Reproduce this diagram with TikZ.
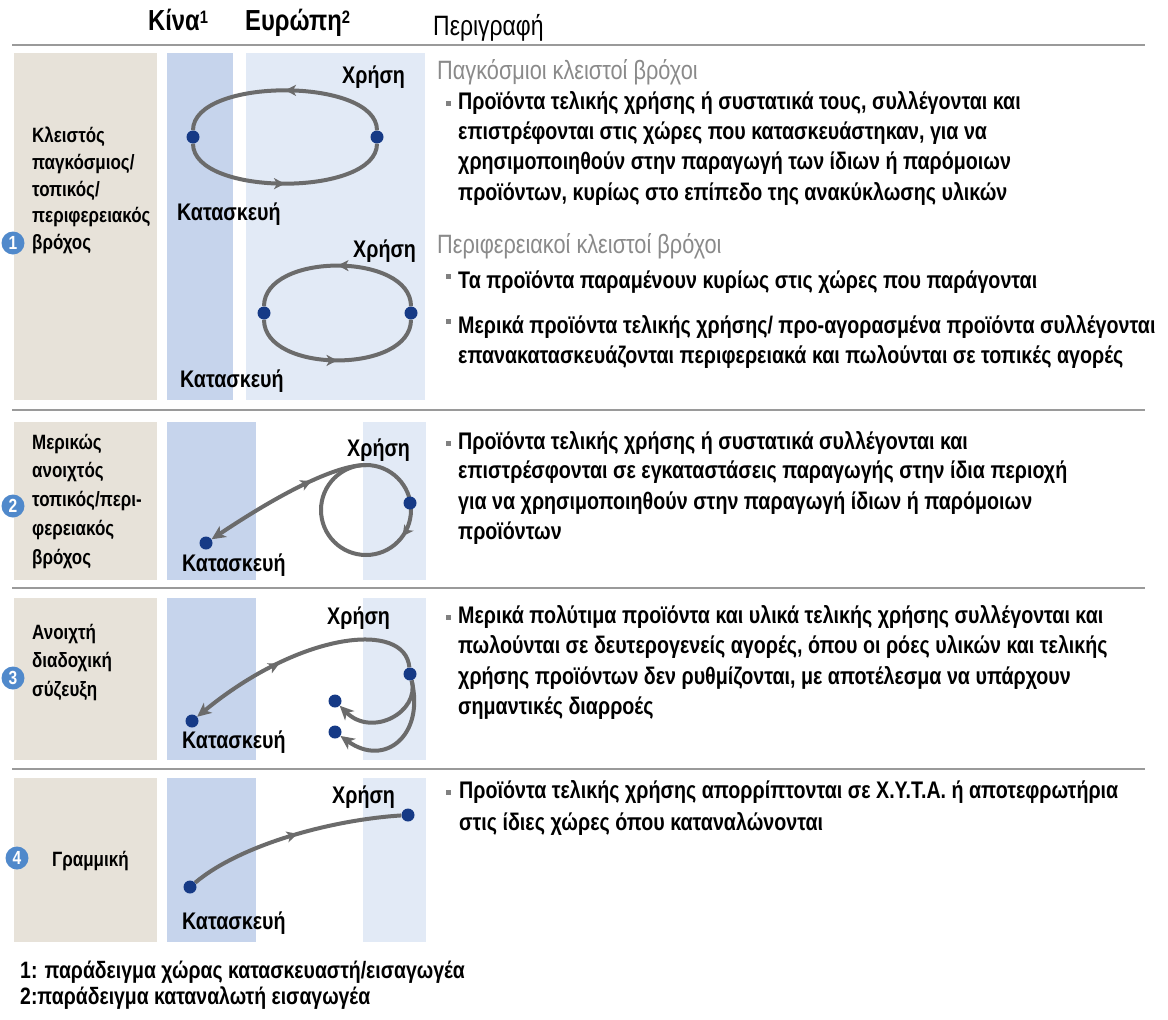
\documentclass[tikz,border=0pt]{standalone}
\usepackage{fontspec}
\setmainfont{Liberation Sans}[FakeStretch=0.82]
\usetikzlibrary{arrows.meta,decorations.markings}

\definecolor{panelbeige}{HTML}{E7E2D9}
\definecolor{chinablue}{HTML}{C6D4EC}
\definecolor{europeblue}{HTML}{E2EAF6}
\definecolor{rulegray}{HTML}{9A9A9A}
\definecolor{flowgray}{HTML}{6B6B6B}
\definecolor{dotblue}{HTML}{163A86}
\definecolor{badgeblue}{HTML}{5089CB}
\definecolor{subgray}{HTML}{8A8A8A}
\definecolor{bulletgray}{HTML}{808080}

\begin{document}
\begin{tikzpicture}[x=1pt,y=-1pt,
  basetxt/.style={anchor=mid west,inner sep=0pt,yshift=-4pt},
  headtxt/.style={basetxt,font=\fontsize{29}{30}\selectfont\bfseries},
  descheadtxt/.style={basetxt,font=\fontsize{28}{30}\selectfont},
  labeltxt/.style={basetxt,font=\fontsize{20.7}{24}\selectfont\bfseries},
  bodytxt/.style={basetxt,font=\fontsize{24}{28}\selectfont\bfseries},
  subtxt/.style={basetxt,text=subgray,font=\fontsize{26.5}{28}\selectfont},
  placetxt/.style={basetxt,font=\fontsize{24}{28}\selectfont\bfseries},
  notetxt/.style={basetxt,font=\fontsize{23.7}{28}\selectfont\bfseries},
  bulletbox/.style={fill=bulletgray,inner sep=0pt,minimum size=5pt,rectangle},
  badge/.style={circle,fill=badgeblue,text=white,inner sep=0pt,minimum size=23pt,
    font=\fontsize{19}{19}\selectfont\bfseries},
  flowdot/.style={circle,fill=dotblue,inner sep=0pt,minimum size=13pt},
  flow/.style={draw=flowgray,line width=4pt},
  endarrow/.style={-{Stealth[length=14pt,width=13pt,inset=4pt]}},
  midarrow/.style={postaction={decorate},decoration={markings,
    mark=at position #1 with {\arrow{Stealth[length=11pt,width=11pt,inset=3pt]}}}},
  midrevarrow/.style={postaction={decorate},decoration={markings,
    mark=at position #1 with {\arrowreversed{Stealth[length=11pt,width=11pt,inset=3pt]}}}},
  rule/.style={draw=rulegray,line width=2.6pt}
]
\useasboundingbox (0,0) rectangle (1168,1020);
\fill[white] (0,0) rectangle (1168,1020);

% ---------- header ----------
\node[headtxt] (hchina) at (148,24) {Κίνα\raisebox{7pt}{\fontsize{18}{18}\selectfont 1}};
\node[headtxt] (heurope) at (245,24) {Ευρώπη\raisebox{7pt}{\fontsize{18}{18}\selectfont 2}};
\node[descheadtxt] (hdesc) at (433,29) {Περιγραφή};

% ---------- horizontal rules ----------
\draw[rule] (12,45) -- (1145,45);
\draw[rule] (12,410) -- (1145,410);
\draw[rule] (12,588) -- (1145,588);
\draw[rule] (12,769) -- (1145,769);

% ---------- panels ----------
\fill[panelbeige] (14,53) rectangle (157,400);
\fill[chinablue] (167,53) rectangle (233,400);
\fill[europeblue] (246,53) rectangle (425,400);

\fill[panelbeige] (14,422) rectangle (157,580);
\fill[chinablue] (167,422) rectangle (256,580);
\fill[europeblue] (363,422) rectangle (426,580);

\fill[panelbeige] (14,598) rectangle (157,760);
\fill[chinablue] (167,598) rectangle (256,760);
\fill[europeblue] (363,598) rectangle (426,760);

\fill[panelbeige] (14,778) rectangle (157,942);
\fill[chinablue] (167,778) rectangle (256,942);
\fill[europeblue] (363,778) rectangle (426,942);

% ---------- row labels ----------
\node[labeltxt] (l1a) at (32,136) {Κλειστός};
\node[labeltxt] (l1b) at (32,163) {παγκόσμιος/};
\node[labeltxt] (l1c) at (32,190) {τοπικός/};
\node[labeltxt] (l1d) at (32,216) {περιφερειακός};
\node[labeltxt] (l1e) at (32,243) {βρόχος};
\node[badge] (b1) at (13,243) {1};

\node[labeltxt] (l2a) at (32,443) {Μερικώς};
\node[labeltxt] (l2b) at (32,471) {ανοιχτός};
\node[labeltxt] (l2c) at (32,500) {τοπικός/περι-};
\node[labeltxt] (l2d) at (32,529) {φερειακός};
\node[labeltxt] (l2e) at (32,558) {βρόχος};
\node[badge] (b2) at (13,506) {2};

\node[labeltxt] (l3a) at (32,633) {Ανοιχτή};
\node[labeltxt] (l3b) at (32,661) {διαδοχική};
\node[labeltxt] (l3c) at (32,690) {σύζευξη};
\node[badge] (b3) at (13,678) {3};

\node[labeltxt] (l4a) at (52,860) {Γραμμική};
\node[badge] (b4) at (17,858) {4};

% ---------- row 1: global and regional closed loops ----------
\node[flowdot] (k1a) at (193,137) {};
\node[flowdot] (u1a) at (377,137) {};
\draw[flow,midarrow=0.5] (k1a) .. controls +(0,60) and +(0,60) .. (u1a);
\draw[flow,midarrow=0.5] (u1a) .. controls +(0,-60) and +(0,-60) .. (k1a);
\node[placetxt] (tu1a) at (342,77) {Χρήση};
\node[placetxt] (tk1a) at (177,214) {Κατασκευή};

\node[flowdot] (k1b) at (264,313) {};
\node[flowdot] (u1b) at (411,313) {};
\draw[flow,midarrow=0.5] (k1b) .. controls +(0,61) and +(0,61) .. (u1b);
\draw[flow,midarrow=0.5] (u1b) .. controls +(0,-61) and +(0,-61) .. (k1b);
\node[placetxt] (tu1b) at (353,251) {Χρήση};
\node[placetxt] (tk1b) at (180,381) {Κατασκευή};

% ---------- row 2: partially open loop ----------
\coordinate (c2) at (366,510);
\coordinate (top2) at (366,465);
\node[flowdot] (k2) at (206,543) {};
\draw[flow,midarrow=0.1] (c2) circle[radius=45];
\node[flowdot] (u2) at (410,503) {};
\draw[flow,endarrow,midrevarrow=0.33] (top2) .. controls +(-40,0) and +(45,-30) .. (k2);
\node[placetxt] (tu2) at (347,450) {Χρήση};
\node[placetxt] (tk2) at (182,565) {Κατασκευή};

% ---------- row 3: open cascading coupling ----------
\node[flowdot] (k3) at (192,721) {};
\node[flowdot] (u3) at (410,674) {};
\node[flowdot] (s3a) at (335,701) {};
\node[flowdot] (s3b) at (335,732) {};
\draw[flow,endarrow,midrevarrow=0.6] (u3) .. controls (405,620) and (300,632) .. (k3);
\draw[flow,endarrow] (u3) .. controls (420,712) and (372,738) .. (s3a);
\draw[flow,endarrow] (u3) .. controls (425,735) and (385,768) .. (s3b);
\node[placetxt] (tu3) at (327,618) {Χρήση};
\node[placetxt] (tk3) at (182,742) {Κατασκευή};

% ---------- row 4: linear ----------
\node[flowdot] (k4) at (190,887) {};
\node[flowdot] (u4) at (408,815) {};
\draw[flow,midarrow=0.52] (k4) .. controls (240,845) and (330,820) .. (u4);
\node[placetxt] (tu4) at (332,797) {Χρήση};
\node[placetxt] (tk4) at (182,923) {Κατασκευή};

% ---------- descriptions ----------
\node[subtxt] (s1) at (437,73) {Παγκόσμιοι κλειστοί βρόχοι};
\node[bulletbox] (p1) at (448,103) {};
\node[bodytxt] (d1a) at (458,103) {Προϊόντα τελικής χρήσης ή συστατικά τους, συλλέγονται και};
\node[bodytxt] (d1b) at (458,133) {επιστρέφονται στις χώρες που κατασκευάστηκαν, για να};
\node[bodytxt] (d1c) at (458,163) {χρησιμοποιηθούν στην παραγωγή των ίδιων ή παρόμοιων};
\node[bodytxt] (d1d) at (458,194) {προϊόντων, κυρίως στο επίπεδο της ανακύκλωσης υλικών};

\node[subtxt] (s2) at (437,247) {Περιφερειακοί κλειστοί βρόχοι};
\node[bulletbox] (p2) at (448,276) {};
\node[bodytxt] (d2a) at (458,282) {Τα προϊόντα παραμένουν κυρίως στις χώρες που παράγονται};
\node[bulletbox] (p3) at (448,321) {};
\node[bodytxt] (d3a) at (458,327) {Μερικά προϊόντα τελικής χρήσης/ προ-αγορασμένα προϊόντα συλλέγονται};
\node[bodytxt] (d3b) at (458,357) {επανακατασκευάζονται περιφερειακά και πωλούνται σε τοπικές αγορές};

\node[bulletbox] (p4) at (448,443) {};
\node[bodytxt] (d4a) at (458,443) {Προϊόντα τελικής χρήσης ή συστατικά συλλέγονται και};
\node[bodytxt] (d4b) at (458,472) {επιστρέσφονται σε εγκαταστάσεις παραγωγής στην ίδια περιοχή};
\node[bodytxt] (d4c) at (458,503) {για να χρησιμοποιηθούν στην παραγωγή ίδιων ή παρόμοιων};
\node[bodytxt] (d4d) at (458,533) {προϊόντων};

\node[bulletbox] (p5) at (448,617) {};
\node[bodytxt] (d5a) at (458,617) {Μερικά πολύτιμα προϊόντα και υλικά τελικής χρήσης συλλέγονται και};
\node[bodytxt] (d5b) at (458,647) {πωλούνται σε δευτερογενείς αγορές, όπου οι ρόες υλικών και τελικής};
\node[bodytxt] (d5c) at (458,678) {χρήσης προϊόντων δεν ρυθμίζονται, με αποτέλεσμα να υπάρχουν};
\node[bodytxt] (d5d) at (458,708) {σημαντικές διαρροές};

\node[bulletbox] (p6) at (448,792) {};
\node[bodytxt] (d6a) at (459,792) {Προϊόντα τελικής χρήσης απορρίπτονται σε Χ.Υ.Τ.Α. ή αποτεφρωτήρια};
\node[bodytxt] (d6b) at (459,824) {στις ίδιες χώρες όπου καταναλώνονται};

% ---------- footnotes ----------
\node[notetxt] (n1) at (20,972) {1: παράδειγμα χώρας κατασκευαστή/εισαγωγέα};
\node[notetxt] (n2) at (20,998) {2:παράδειγμα καταναλωτή εισαγωγέα};
\end{tikzpicture}
\end{document}
